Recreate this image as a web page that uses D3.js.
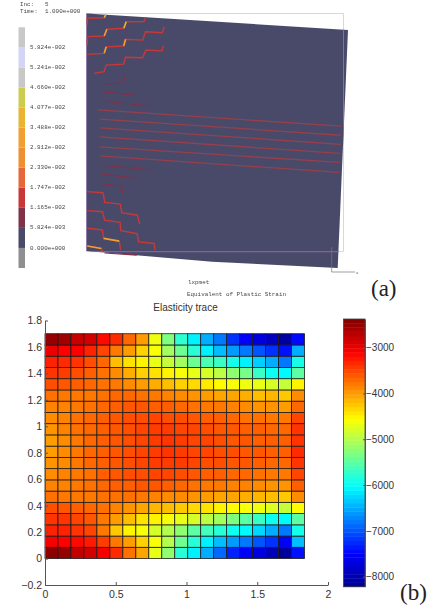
<!DOCTYPE html>
<html lang="en">
<head>
	<meta charset="utf-8">
	<script src="https://d3js.org/d3.v7.min.js"></script>
	<style>
		html, body { margin: 0; padding: 0; background: #fff; }
		svg { display: block; }
	</style>
</head>
<body>
<script>
	// ---- panel (b) data: elasticity trace, row 0 is the bottom row ----
	const heatRows = [
		[-2450,-2500,-2750,-2850,-3050,-3350,-3750,-4050,-4700,-5200,-5800,-6100,-6500,-6900,-7300,-7500,-7700,-7950,-8150,-7400],
		[-3050,-3100,-3150,-3250,-3450,-3800,-4000,-4300,-4600,-5000,-5400,-5800,-6100,-6400,-6600,-6800,-7000,-7200,-7500,-6400],
		[-3300,-3300,-3400,-3500,-3800,-4250,-4500,-4600,-4800,-5000,-5200,-5500,-5650,-5800,-5950,-6050,-6250,-6500,-6800,-5900],
		[-3400,-3400,-3500,-3600,-3800,-4000,-4200,-4400,-4500,-4600,-4700,-4800,-4950,-5100,-5300,-5500,-5700,-5950,-6050,-5500],
		[-3550,-3600,-3650,-3700,-3750,-3850,-3950,-4050,-4150,-4200,-4250,-4350,-4400,-4500,-4550,-4600,-4650,-4750,-4900,-4550],
		[-3750,-3800,-3800,-3800,-3750,-3750,-3750,-3800,-3850,-3900,-3900,-3950,-4000,-4050,-4050,-4100,-4150,-4200,-4250,-3900],
		[-3850,-3850,-3800,-3750,-3700,-3650,-3650,-3600,-3600,-3650,-3700,-3750,-3800,-3800,-3850,-3850,-3900,-3950,-3950,-3650],
		[-3900,-3850,-3800,-3750,-3650,-3600,-3550,-3550,-3500,-3500,-3550,-3600,-3650,-3650,-3700,-3700,-3750,-3800,-3800,-3500],
		[-3950,-3900,-3800,-3700,-3650,-3600,-3550,-3500,-3450,-3450,-3450,-3500,-3550,-3550,-3600,-3600,-3650,-3700,-3700,-3400],
		[-4000,-3900,-3800,-3700,-3650,-3600,-3550,-3500,-3450,-3400,-3450,-3500,-3500,-3550,-3550,-3600,-3600,-3650,-3650,-3350],
		[-4000,-3900,-3800,-3700,-3650,-3600,-3550,-3500,-3450,-3400,-3450,-3500,-3500,-3550,-3600,-3600,-3650,-3650,-3650,-3400],
		[-3950,-3850,-3750,-3700,-3650,-3600,-3550,-3500,-3450,-3450,-3500,-3500,-3550,-3600,-3600,-3650,-3650,-3700,-3700,-3400],
		[-3900,-3850,-3750,-3700,-3650,-3600,-3550,-3550,-3500,-3550,-3550,-3600,-3650,-3650,-3700,-3750,-3750,-3800,-3800,-3500],
		[-3850,-3850,-3800,-3750,-3700,-3650,-3600,-3600,-3650,-3650,-3700,-3750,-3800,-3800,-3850,-3900,-3950,-3950,-4000,-3700],
		[-3750,-3800,-3800,-3800,-3750,-3700,-3700,-3750,-3800,-3850,-3900,-3950,-4000,-4050,-4050,-4100,-4200,-4150,-4250,-3900],
		[-3550,-3600,-3650,-3700,-3750,-3800,-3900,-4000,-4100,-4200,-4300,-4350,-4450,-4550,-4600,-4650,-4700,-4800,-4900,-4500],
		[-3400,-3450,-3550,-3650,-3750,-3900,-4100,-4300,-4400,-4500,-4600,-4700,-4800,-4950,-5200,-5350,-5700,-5950,-6050,-5500],
		[-3300,-3350,-3400,-3550,-3700,-4200,-4400,-4500,-4700,-4900,-5100,-5400,-5600,-5700,-5900,-6100,-6300,-6500,-6800,-5900],
		[-3000,-3100,-3100,-3300,-3500,-3800,-4000,-4300,-4600,-5100,-5400,-5800,-6100,-6400,-6600,-6800,-7000,-7200,-7400,-6500],
		[-2500,-2550,-2800,-2850,-3150,-3350,-3700,-4000,-4650,-5300,-5750,-6100,-6500,-6800,-7200,-7500,-7700,-7900,-8100,-7450]
	];
	const meshW = 0.0917, meshH = 0.085;
	const xTicks = [0, 0.5, 1, 1.5, 2];
	const yTicks = [-0.2, 0, 0.2, 0.4, 0.6, 0.8, 1, 1.2, 1.4, 1.6, 1.8];
	const barTicks = [-3000, -4000, -5000, -6000, -7000, -8000];
	const barRange = [-8220, -2373];
	const jetStops = [0, 0.125, 0.375, 0.625, 0.875, 1];
	const jetColours = ["#00008f", "#0000ff", "#00ffff", "#ffff00", "#ff0000", "#800000"];

	// ---- panel (a) data: strain contours in model units, 0..100 both ways ----
	const legendCuts = [0, 0.005824, 0.01165, 0.01747, 0.0233, 0.02912, 0.03488, 0.04077, 0.0466, 0.05241, 0.05824];
	const legendLabels = ["0.000e+000", "5.824e-003", "1.165e-002", "1.747e-002", "2.330e-002", "2.912e-002", "3.488e-002", "4.077e-002", "4.660e-002", "5.241e-002", "5.824e-002"];
	const legendColours = ["#8f8f8f", "#484868", "#803048", "#c83838", "#e66838", "#ee9030", "#f0a030", "#e8b430", "#cccc50", "#c8c8c8", "#d4d4f4", "#c8c8c8"];

	const plateOutline = [[0,0],[100,0],[100,100],[50,100.9],[0,100]];
	const refFrame = [[0,0],[100,0],[100,100],[0,100]];

	const stairLines = [
		[[0.3,2.0],[6.8,1.3],[7.4,0]],
		[[0.3,2.0],[0.3,4.8]],
		[[0.3,10.4],[0.3,13.2]],
		[[0.3,9.7],[6.8,9],[7.8,6.1],[14.3,5.2],[15.2,2.4],[22,1.9],[22.6,0]],
		[[0.3,17.2],[6.8,16.3],[7.6,13.5],[14.3,12.7],[15,9.8],[21.6,9.7],[22.6,6.1],[29,6.1],[29.8,3.5]],
		[[2.9,25],[6.8,24],[7.6,21.2],[14.3,20.3],[15,17.4],[21.6,17.1],[22.8,13.8],[29,13.7],[29.5,11.6]],
		[[0.3,75],[6.5,75],[7.2,79],[13.3,79.3],[14,82.9],[20.1,83.5],[21.1,87.2]],
		[[0.3,83],[6.3,83],[7.2,86.5],[13.3,87],[13.6,90.5],[20.1,91.2],[20.7,94.7],[26.9,94.9],[27.2,97.7]],
		[[0.3,90.4],[6.3,90.7],[6.8,94.2],[13,94.9],[13.6,98.6]],
		[[0.3,97.9],[5.9,98.5],[6.5,99.8]]
	];
	const stairStrain = [0.015, 0.015, 0.015, 0.015, 0.015, 0.015, 0.015, 0.015, 0.015, 0.015];

	const hotLines = [
		[[6.8,1.3],[7.4,0]],
		[[6.8,9],[7.8,6.1]],
		[[14.3,5.2],[15.2,2.4]],
		[[6.8,16.3],[7.6,13.5]],
		[[14.3,12.7],[15,9.8]],
		[[6.8,94.2],[13,94.9]],
		[[0.3,97.9],[5.9,98.5]]
	];
	const hotStrain = [0.036, 0.032, 0.036, 0.03, 0.032, 0.032, 0.032];

	const longLines = [
		[[4.5,40.3],[99,40.5]],
		[[5.2,44.1],[99,44.3]],
		[[5.2,47.8],[99,48.1]],
		[[5.2,51.6],[99,51.9]],
		[[5.2,55.8],[99,55.7]],
		[[5.2,59.6],[99,59.9]]
	];
	const longStrain = 0.013;
	const faintLines = [
		[[6.8,29.2],[14.3,28.2],[15,24.9]],
		[[5.9,32.5],[20.7,33.2]],
		[[5.9,36.4],[25.3,37.2]],
		[[6,63.4],[25.8,64.1]],
		[[6,67.2],[20,67.9]],
		[[6.8,71.3],[13.9,71.7],[14.3,74.6]],
		[[7.2,100.3],[20,100.3]]
	];
	const faintStrain = 0.008;

	const width = 429, height = 605;

	const svg = d3.select("body").append("svg")
		.attr("width", width)
		.attr("height", height)
		.attr("viewBox", "0 0 " + width + " " + height);

	svg.append("rect").attr("width", width).attr("height", height).attr("fill", "#fff");

	// the screenshot of panel (a) is soft, so blur it a bit
	const defs = svg.append("defs");
	defs.append("filter").attr("id", "soft")
		.attr("x", "-5%").attr("y", "-5%").attr("width", "110%").attr("height", "110%")
		.append("feGaussianBlur").attr("stdDeviation", 0.6);
	defs.append("filter").attr("id", "softText")
		.attr("x", "-5%").attr("y", "-20%").attr("width", "110%").attr("height", "140%")
		.append("feGaussianBlur").attr("stdDeviation", 0.35);

	// ---------- panel (a) ----------
	const panelA = svg.append("g").attr("filter", "url(#soft)");
	const panelText = svg.append("g").attr("filter", "url(#softText)")
		.attr("font-family", "'Liberation Mono', monospace")
		.attr("font-size", 5.9)
		.attr("fill", "#444");

	// bilinear map from model units to the tilted plate
	const xTop = d3.scaleLinear().domain([0, 100]).range([86.5, 348]);
	const xBot = d3.scaleLinear().domain([0, 100]).range([86.5, 337.7]);
	const yTop = d3.scaleLinear().domain([0, 100]).range([13.5, 30]);
	const yBot = d3.scaleLinear().domain([0, 100]).range([251, 268]);
	const plateX = function(p) { return xTop(p[0]) + (xBot(p[0]) - xTop(p[0])) * p[1] / 100; };
	const plateY = function(p) { return yTop(p[0]) + (yBot(p[0]) - yTop(p[0])) * p[1] / 100; };
	const plateLine = d3.line().x(plateX).y(plateY);
	const strainColour = d3.scaleThreshold().domain(legendCuts).range(legendColours);

	// undeformed frame sits on a straight box, not on the tilted plate
	const frameX = d3.scaleLinear().domain([0, 100]).range([86.5, 343.5]);
	const frameY = d3.scaleLinear().domain([0, 100]).range([13.5, 251.7]);
	const frameLine = d3.line().x(d => frameX(d[0])).y(d => frameY(d[1])).curve(d3.curveLinearClosed);

	panelA.append("path").attr("d", frameLine(refFrame))
		.attr("fill", "none").attr("stroke", "#e4cfe8").attr("stroke-width", 1);

	defs.append("clipPath").attr("id", "plateClip").append("path")
		.attr("d", plateLine(plateOutline) + "Z");

	panelA.append("path").attr("d", plateLine(plateOutline) + "Z")
		.attr("fill", "#4a4a6a");

	panelA.append("path").attr("d", frameLine(refFrame))
		.attr("clip-path", "url(#plateClip)")
		.attr("fill", "none").attr("stroke", "#8a6aa8").attr("stroke-width", 1);

	panelA.selectAll(".long").data(longLines).enter().append("path")
		.attr("class", "long")
		.attr("d", plateLine)
		.attr("fill", "none")
		.attr("stroke", strainColour(longStrain))
		.attr("stroke-opacity", 0.6)
		.attr("stroke-width", 1.3);

	panelA.selectAll(".faint").data(faintLines).enter().append("path")
		.attr("class", "faint")
		.attr("d", plateLine)
		.attr("fill", "none")
		.attr("stroke", strainColour(faintStrain))
		.attr("stroke-width", 1.1);

	panelA.selectAll(".stair").data(stairLines).enter().append("path")
		.attr("class", "stair")
		.attr("d", plateLine)
		.attr("fill", "none")
		.attr("stroke", (d, i) => strainColour(stairStrain[i]))
		.attr("stroke-width", 1.4);

	panelA.selectAll(".hot").data(hotLines).enter().append("path")
		.attr("class", "hot")
		.attr("d", plateLine)
		.attr("fill", "none")
		.attr("stroke", (d, i) => strainColour(hotStrain[i]))
		.attr("stroke-width", 1.6);

	// little axis triad, bottom right corner of the plate
	panelA.append("path").attr("d", "M331.7,247V272H355")
		.attr("fill", "none").attr("stroke", "#777").attr("stroke-width", 0.7);

	// legend strip: one block per band, cut values label the joints
	const legendY = d3.scaleLinear().domain([0, 12]).range([268, 27.3]);
	panelA.selectAll(".band").data(legendColours).enter().append("rect")
		.attr("class", "band")
		.attr("x", 18.5)
		.attr("width", 6.5)
		.attr("y", (d, i) => legendY(i + 1))
		.attr("height", (d, i) => legendY(i) - legendY(i + 1))
		.attr("fill", d => d);

	panelText.selectAll(".bandLabel").data(legendLabels).enter().append("text")
		.attr("class", "bandLabel")
		.attr("x", 30)
		.attr("y", (d, i) => legendY(i + 1) + 1.6)
		.text(d => d);

	panelText.append("text").attr("x", 20).attr("y", 5.5).text("Inc:");
	panelText.append("text").attr("x", 45).attr("y", 5.5).text("5");
	panelText.append("text").attr("x", 20).attr("y", 12.5).text("Time:");
	panelText.append("text").attr("x", 45).attr("y", 12.5).text("1.000e+000");
	panelText.append("text").attr("x", 188).attr("y", 283.5).text("lxpmet");
	panelText.append("text").attr("x", 187).attr("y", 295.5).text("Equivalent of Plastic Strain");
	panelText.append("text").attr("x", 356).attr("y", 273.5).attr("font-size", 4).text("X");

	// ---------- panel (b) ----------
	const x = d3.scaleLinear().domain([0, 2]).range([45, 328]);
	const y = d3.scaleLinear().domain([-0.2, 1.8]).range([585, 320.5]);
	const jet = d3.scaleLinear()
		.domain(jetStops.map(t => barRange[0] + t * (barRange[1] - barRange[0])))
		.range(jetColours);

	const cells = heatRows.flatMap((row, r) => row.map((v, c) => ({r: r, c: c, v: v})));

	svg.append("g").selectAll("rect").data(cells).enter().append("rect")
		.attr("x", d => x(d.c * meshW))
		.attr("y", d => y((d.r + 1) * meshH))
		.attr("width", d => x((d.c + 1) * meshW) - x(d.c * meshW))
		.attr("height", d => y(d.r * meshH) - y((d.r + 1) * meshH))
		.attr("fill", d => jet(d.v))
		.attr("stroke", "#1c1c1c")
		.attr("stroke-width", 0.8);

	const styleAxis = function(g, size) {
		g.attr("font-family", "'Liberation Sans', Arial, sans-serif").attr("font-size", size);
		g.selectAll("path, line").attr("stroke", "#555");
		g.selectAll("text").attr("fill", "#333");
	};

	const xAxis = d3.axisBottom(x).tickValues(xTicks).tickFormat(d3.format("~g"))
		.tickSizeInner(-3).tickSizeOuter(0).tickPadding(6);
	svg.append("g").attr("transform", "translate(0,585)").call(xAxis).call(styleAxis, 10.5);

	const yAxis = d3.axisLeft(y).tickValues(yTicks).tickFormat(d3.format("~g"))
		.tickSizeInner(-3).tickSizeOuter(0).tickPadding(3);
	svg.append("g").attr("transform", "translate(45,0)").call(yAxis).call(styleAxis, 10.5);

	svg.append("text")
		.attr("x", 185.5).attr("y", 311)
		.attr("text-anchor", "middle")
		.attr("font-family", "'Liberation Sans', Arial, sans-serif")
		.attr("font-size", 10)
		.attr("fill", "#333")
		.text("Elasticity trace");

	// colour bar, 64 steps like the matlab jet map
	const barY = d3.scaleLinear().domain(barRange).range([586.7, 319]);
	const barSteps = d3.range(64);
	const barStep = (barRange[1] - barRange[0]) / 64;
	svg.append("g").selectAll("rect").data(barSteps).enter().append("rect")
		.attr("x", 343.5)
		.attr("width", 21.5)
		.attr("y", d => barY(barRange[0] + (d + 1) * barStep))
		.attr("height", barY(barRange[0]) - barY(barRange[0] + barStep) + 0.4)
		.attr("fill", d => jet(barRange[0] + (d + 0.5) * barStep));
	svg.append("rect")
		.attr("x", 343.5).attr("y", 319).attr("width", 21.5).attr("height", 267.7)
		.attr("fill", "none").attr("stroke", "#444").attr("stroke-width", 0.8);

	const barAxis = d3.axisRight(barY).tickValues(barTicks).tickFormat(d3.format("d"))
		.tickSizeInner(-2).tickSizeOuter(0).tickPadding(1);
	svg.append("g").attr("transform", "translate(365,0)").call(barAxis).call(styleAxis, 10);

	// panel letters
	const letters = svg.append("g")
		.attr("font-family", "'Liberation Serif', 'Times New Roman', serif")
		.attr("font-size", 23)
		.attr("fill", "#222");
	letters.append("text").attr("x", 371).attr("y", 296).text("(a)");
	letters.append("text").attr("x", 400).attr("y", 600).text("(b)");
</script>
</body>
</html>
